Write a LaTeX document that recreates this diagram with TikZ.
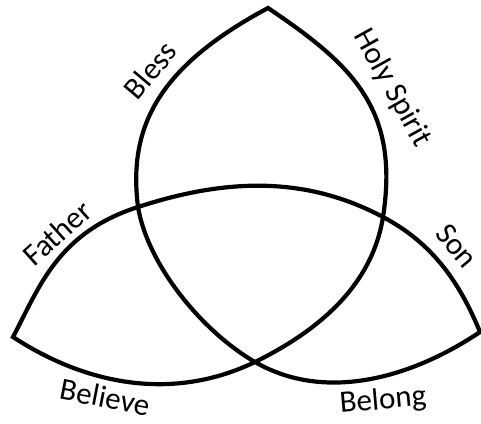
\documentclass[tikz,border=0pt]{standalone}
\usepackage{fontspec}
\setmainfont{Carlito}
\usetikzlibrary{positioning}
\tikzset{
  knot/.style={line width=2.1pt, line join=miter, miter limit=20, black},
  word/.style={font=\fontsize{15.5}{18}\selectfont, inner sep=1pt}
}

\begin{document}
\begin{tikzpicture}[x=0.5pt, y=0.5pt]
  \useasboundingbox (0,0) rectangle (481,423);

  % Tips and crossings
  \coordinate (tipT) at (268,415);
  \coordinate (tipL) at (13,86);
  \coordinate (tipR) at (480,91);
  \coordinate (crossA) at (138,216);
  \coordinate (crossB) at (383,206);
  \coordinate (crossC) at (255,61);

  % One closed line through the three loops
  \draw[knot] (tipT)
    .. controls (158,356) and (128,296) .. (crossA)
    .. controls (148,157) and (203,91) .. (crossC)
    .. controls (324,21) and (410,44) .. (tipR)
    .. controls (459,142) and (432,180) .. (crossB)
    .. controls (304,248) and (224,244) .. (crossA)
    .. controls (57,190) and (39,135) .. (tipL)
    .. controls (88,37) and (174,22) .. (crossC)
    .. controls (318,92) and (372,137) .. (crossB)
    .. controls (400,315) and (351,359) .. (tipT) -- cycle;

  % Labels
  \node[word, rotate=50] (bless) at (150,353) {Bless};
  \node[word, rotate=-61] (spirit) at (392,335) {Holy Spirit};
  \node[word, rotate=42] (father) at (57,190) {Father};
  \node[word, rotate=-50] (son) at (457,177) {Son};
  \node[word, rotate=-11] (believe) at (105,26) {Believe};
  \node[word, rotate=5] (belong) at (383,22) {Belong};
\end{tikzpicture}
\end{document}
